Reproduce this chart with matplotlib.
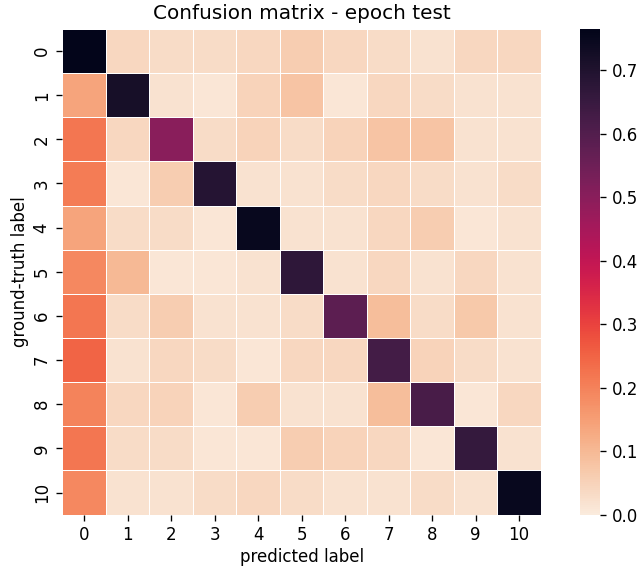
import numpy as np
import matplotlib
matplotlib.use('Agg')
import matplotlib.pyplot as plt
import seaborn as sns

labels = [str(i) for i in range(11)]

row_0 = [0.765, 0.04, 0.03, 0.03, 0.04, 0.06, 0.04, 0.03, 0.02, 0.04, 0.04]
row_1 = [0.14, 0.72, 0.02, 0.01, 0.05, 0.08, 0.01, 0.04, 0.03, 0.02, 0.02]
row_2 = [0.22, 0.04, 0.50, 0.03, 0.05, 0.03, 0.05, 0.08, 0.08, 0.02, 0.02]
row_3 = [0.21, 0.01, 0.06, 0.69, 0.02, 0.02, 0.03, 0.04, 0.03, 0.02, 0.03]
row_4 = [0.14, 0.03, 0.03, 0.01, 0.75, 0.02, 0.02, 0.04, 0.06, 0.01, 0.02]
row_5 = [0.19, 0.10, 0.01, 0.01, 0.02, 0.67, 0.02, 0.04, 0.02, 0.04, 0.02]
row_6 = [0.22, 0.03, 0.06, 0.02, 0.02, 0.03, 0.58, 0.09, 0.03, 0.07, 0.02]
row_7 = [0.25, 0.02, 0.04, 0.03, 0.01, 0.04, 0.04, 0.63, 0.05, 0.03, 0.02]
row_8 = [0.20, 0.04, 0.05, 0.01, 0.06, 0.02, 0.02, 0.09, 0.62, 0.01, 0.04]
row_9 = [0.22, 0.03, 0.03, 0.01, 0.01, 0.06, 0.05, 0.04, 0.01, 0.66, 0.02]
row_10 = [0.19, 0.02, 0.02, 0.03, 0.04, 0.03, 0.02, 0.02, 0.03, 0.02, 0.75]

matrix = np.array([row_0, row_1, row_2, row_3, row_4, row_5,
                   row_6, row_7, row_8, row_9, row_10])

# Plotting
fig = plt.figure(figsize=(643 / 120, 568 / 120), dpi=120)
ax = fig.add_axes([0.097, 0.094, 0.744, 0.855])
cax = fig.add_axes([0.902, 0.094, 0.031, 0.855])
sns.heatmap(matrix, cmap='rocket_r', linewidths=0.5, linecolor='white',
            xticklabels=labels, yticklabels=labels, ax=ax, cbar_ax=cax,
            vmin=0)
ax.set_title('Confusion matrix - epoch test', fontsize=12)
ax.set_xlabel('predicted label', labelpad=2)
ax.set_ylabel('ground-truth label', labelpad=2)
ax.tick_params(axis='y', rotation=90)

fig.savefig('out.png', dpi=120)
